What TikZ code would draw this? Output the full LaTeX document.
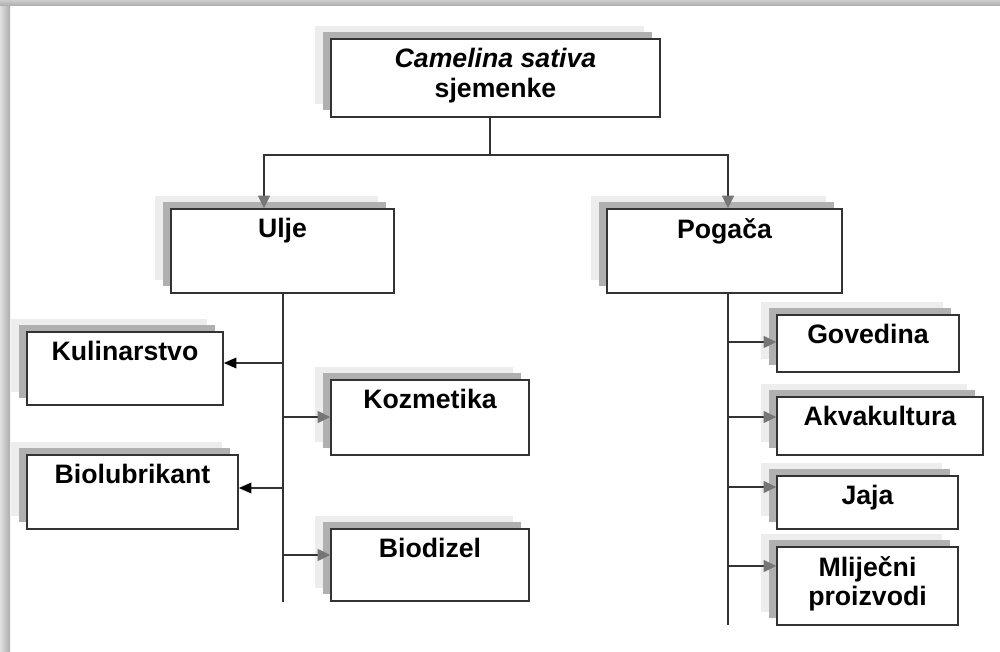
\documentclass[tikz,border=0pt]{standalone}
\usepackage{fontspec}
\setmainfont{Liberation Sans}
\usetikzlibrary{arrows.meta,fit}
\definecolor{ln}{HTML}{333333}
\definecolor{ag}{HTML}{767676}
\definecolor{shd}{HTML}{B0B0B0}
\definecolor{shl}{HTML}{EDEDED}
\newcommand\bx[6]{%
  \fill[shl] (#2-16,#3-13) rectangle (#4-16,#5-13);
  \fill[shd] (#2-8,#3-7) rectangle (#4-8,#5-7);
  \node[box, fit={(#2,#3) (#4,#5)}, label={[lbl]north:{#6}}] (#1) {};
}
\begin{document}
\begin{tikzpicture}[x=0.75pt,y=-0.75pt,
  box/.style={draw=ln, line width=1.2pt, fill=white, inner sep=0pt},
  lbl/.style={font=\bfseries\fontsize{20}{22}\selectfont, align=center, inner sep=0pt,
    anchor=north, yshift=-7.6pt, execute at begin node={\rule{0pt}{14.5pt}}},
  conn/.style={draw=ln, line width=1.2pt},
  garr/.style={conn, -{Triangle[length=9.5pt,width=9pt,color=ag]}},
  barr/.style={conn, -{Triangle[length=9.5pt,width=8pt,color=black]}},
]
\useasboundingbox (0,0) rectangle (1000,652);
\fill[white] (0,0) rectangle (1000,652);
\shade[left color=gray!25, right color=gray!65] (0,0) rectangle (10,652);
\shade[top color=gray!40, bottom color=gray!65] (0,0) rectangle (1000,6);

\bx{top}{331}{39}{660}{117}{{\itshape Camelina sativa}\\sjemenke}
\bx{ulje}{171}{209}{394}{293}{Ulje}
\bx{pog}{607}{209}{842}{293}{Pogača}
\bx{kul}{27}{332}{223}{405}{Kulinarstvo}
\bx{biol}{27}{455}{238}{529}{Biolubrikant}
\bx{koz}{331}{380}{529}{455}{Kozmetika}
\bx{biod}{331}{529}{529}{601}{Biodizel}
\bx{gov}{777}{315}{959}{372}{Govedina}
\bx{akv}{777}{397}{983}{455}{Akvakultura}
\bx{jaja}{777}{476}{958}{529}{Jaja}
\bx{mlij}{777}{547}{958}{625}{Mliječni\\proizvodi}

\coordinate (j0) at (490,155);
\coordinate (hl) at (264,155);
\coordinate (hr) at (728,155);
\draw[conn] (top.south -| j0) -- (j0);
\draw[garr] (j0) -| (hl |- ulje.north);
\draw[garr] (j0) -| (hr |- pog.north);

\coordinate (ub) at (283,602);
\coordinate (u1) at (283,363);
\coordinate (u2) at (283,417);
\coordinate (u3) at (283,488);
\coordinate (u4) at (283,555);
\draw[conn] (ulje.south -| ub) -- (ub);
\draw[barr] (u1) -- (u1 -| kul.east);
\draw[garr] (u2) -- (u2 -| koz.west);
\draw[barr] (u3) -- (u3 -| biol.east);
\draw[garr] (u4) -- (u4 -| biod.west);

\coordinate (pb) at (728,625);
\coordinate (p1) at (728,342);
\coordinate (p2) at (728,417);
\coordinate (p3) at (728,487);
\coordinate (p4) at (728,566);
\draw[conn] (pog.south -| pb) -- (pb);
\draw[garr] (p1) -- (p1 -| gov.west);
\draw[garr] (p2) -- (p2 -| akv.west);
\draw[garr] (p3) -- (p3 -| jaja.west);
\draw[garr] (p4) -- (p4 -| mlij.west);
\end{tikzpicture}
\end{document}
